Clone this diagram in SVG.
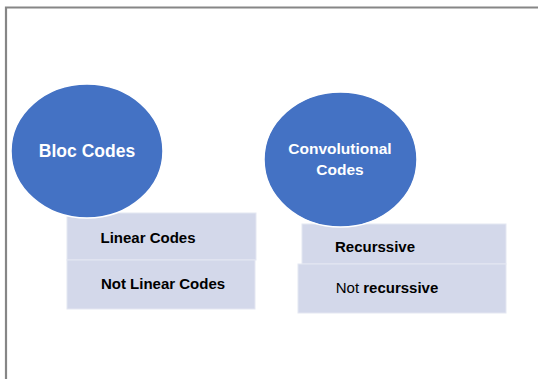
<svg xmlns="http://www.w3.org/2000/svg" width="538" height="379" viewBox="0 0 538 379">
<style>
.frame{fill:none;stroke:#868686;stroke-width:2.2}
.circ{fill:#4472C4;stroke:#ffffff;stroke-width:1.5}
.box{fill:#D3D8EA;stroke:#E4E7F2;stroke-width:1}
.ct{font-family:"Liberation Sans",Arial,sans-serif;font-weight:bold;fill:#ffffff;text-anchor:middle;dominant-baseline:central}
.bt{font-family:"Liberation Sans",Arial,sans-serif;font-weight:bold;fill:#000000;font-size:15px;text-anchor:middle;dominant-baseline:central}
</style>
<path class="frame" d="M6,380 V7.5 H539"/>
<g id="linear-codes">
<rect class="box" x="67" y="213" width="189" height="47"/>
<text class="bt" x="148" y="237">Linear Codes</text>
</g>
<g id="not-linear-codes">
<rect class="box" x="67" y="260" width="188" height="49"/>
<text class="bt" x="163" y="283">Not Linear Codes</text>
</g>
<g id="recurssive">
<rect class="box" x="302" y="224" width="204" height="40"/>
<text class="bt" x="375" y="246">Recurssive</text>
</g>
<g id="not-recurssive">
<rect class="box" x="298" y="264" width="208" height="49"/>
<text class="bt" x="387" y="287"><tspan font-weight="normal">Not</tspan> recurssive</text>
</g>
<g id="bloc-codes">
<ellipse class="circ" cx="87" cy="151" rx="76" ry="67"/>
<text class="ct" x="87" y="151" font-size="17.5">Bloc Codes</text>
</g>
<g id="convolutional-codes">
<ellipse class="circ" cx="340.5" cy="159.5" rx="76.5" ry="67.5"/>
<text class="ct" x="340" y="148" font-size="15.5">Convolutional</text>
<text class="ct" x="340" y="169" font-size="15.5">Codes</text>
</g>
<g id="connectors"/>
</svg>
